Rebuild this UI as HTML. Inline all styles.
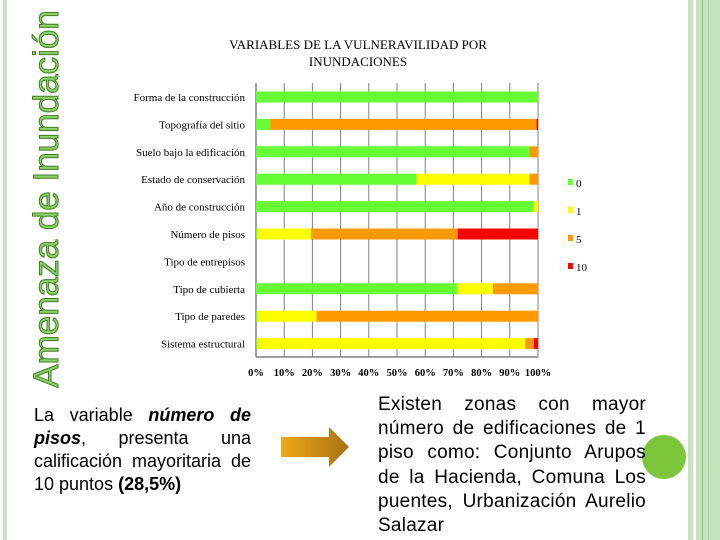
<!DOCTYPE html>
<html><head><meta charset="utf-8"><style>
body{margin:0;width:720px;height:540px;overflow:hidden;background:#fff;position:relative;font-family:"Liberation Sans",sans-serif}
.abs{position:absolute}
</style></head><body>
<div class="abs" style="left:3px;top:0;width:4px;height:540px;background:#c5e3bd"></div>
<div class="abs" style="left:688px;top:0;width:5px;height:540px;background:#c5e3bd"></div>
<div class="abs" style="left:696px;top:0;width:24px;height:540px;background:#c5e3bd"></div>
<div class="abs" style="left:702px;top:0;width:1px;height:540px;background:#8cc77e"></div>
<div class="abs" style="left:708px;top:0;width:1px;height:540px;background:#a8d69c"></div>
<div class="abs" style="left:642px;top:435px;width:44px;height:44px;border-radius:50%;background:#7dc63c"></div>
<div class="abs" style="left:47px;top:199px;width:0;height:0">
<div style="position:absolute;transform:translate(-50%,-50%) rotate(-90deg);white-space:nowrap;font-size:35px;color:#8fd06a;-webkit-text-stroke:1px #3f7f22;left:0;top:0">Amenaza de Inundación</div></div>

<svg class="abs" style="left:0;top:0" width="720" height="540">
<text x="358" y="49" text-anchor="middle" font-family="Liberation Serif" font-size="13">VARIABLES DE LA VULNERAVILIDAD POR</text>
<text x="358" y="66" text-anchor="middle" font-family="Liberation Serif" font-size="13">INUNDACIONES</text>
<g id="grid"></g><g id="bars"></g><g id="labels"></g><g id="ticks"></g><g id="legend"></g>
<defs><linearGradient id="ag" x1="0" x2="1"><stop offset="0" stop-color="#f0a818"/><stop offset="1" stop-color="#a87010"/></linearGradient></defs>
<polygon points="281,437 329,437 329,427 349,447 329,467 329,457 281,457" fill="url(#ag)"/>
</svg>

<div class="abs" style="left:34px;top:404px;width:217px;font-size:18px;line-height:23px;text-align:justify;color:#000">La variable <b><i>número de pisos</i></b>, presenta una calificación mayoritaria de 10 puntos <b>(28,5%)</b></div>
<div class="abs" style="left:378px;top:393px;width:268px;font-size:19px;line-height:24.2px;letter-spacing:0.25px;text-align:justify;color:#000">Existen zonas con mayor número de edificaciones de 1 piso como: Conjunto Arupos de la Hacienda, Comuna Los puentes, Urbanización Aurelio Salazar</div>

<script>
const categories=["Forma de la construcción","Topografía del sitio","Suelo bajo la edificación","Estado de conservación","Año de construcción","Número de pisos","Tipo de entrepisos","Tipo de cubierta","Tipo de paredes","Sistema estructural"];
const s0=[100,5,97,57,98.5,0.5,0,71.5,0.5,0.5];
const s1=[0,0,0,40,1.5,19,0,12.5,21,95];
const s5=[0,94.5,3,3,0,52,0,16,78.5,3];
const s10=[0,0.5,0,0,0,28.5,0,0,0,1.5];
const seriesNames=["0","1","5","10"];
const ticks=[0,10,20,30,40,50,60,70,80,90,100];
const NS="http://www.w3.org/2000/svg";
const x0=256,x1=538,yTop=83,yBot=357,row0=97,rowStep=27.4,bh=11;
const colors=["#66ff33","#ffff00","#ff9900","#ff0000"];
const xs=v=>x0+(x1-x0)*v/100;
const ys=i=>row0+rowStep*i;
function mk(t,a,p){const e=document.createElementNS(NS,t);for(const k in a)e.setAttribute(k,a[k]);p.appendChild(e);return e;}
const G=document.getElementById('grid'),B=document.getElementById('bars'),L=document.getElementById('labels'),T=document.getElementById('ticks'),LG=document.getElementById('legend');
ticks.forEach(t=>{
 const l=mk('line',{x1:xs(t),x2:xs(t),y1:yTop,y2:yBot,stroke:'#808080','stroke-width':t===0?1.5:1},G);
 
 
 const tx=mk('text',{x:xs(t),y:376,'text-anchor':'middle','font-family':'Liberation Serif','font-size':10.5,'font-weight':'bold'},T);
 tx.textContent=t+'%';
 
 
});
const ax=mk('line',{x1:x0,x2:x1,y1:yBot,y2:yBot,stroke:'#808080','stroke-width':1.5},G);


const series=[s0,s1,s5,s10];
categories.forEach((c,i)=>{
 const y=ys(i);
 const lb=mk('text',{x:245,y:y+4,'text-anchor':'end','font-family':'Liberation Serif','font-size':11},L);
 lb.textContent=c;
 
 
 let acc=0;
 series.forEach((s,k)=>{
  const v=s[i];if(v<=0)return;
  const r=mk('rect',{x:xs(acc),y:y-bh/2,width:xs(acc+v)-xs(acc),height:bh,fill:colors[k]},B);
  
  
  acc+=v;
 });
});
seriesNames.forEach((n,k)=>{
 const y=182+28*k;
 const r=mk('rect',{x:568,y:y-3,width:5,height:6,fill:colors[k]},LG);
 
 
 const t=mk('text',{x:576,y:y+5,'font-family':'Liberation Serif','font-size':11},LG);
 t.textContent=n;
 
 
});
</script>
</body></html>
